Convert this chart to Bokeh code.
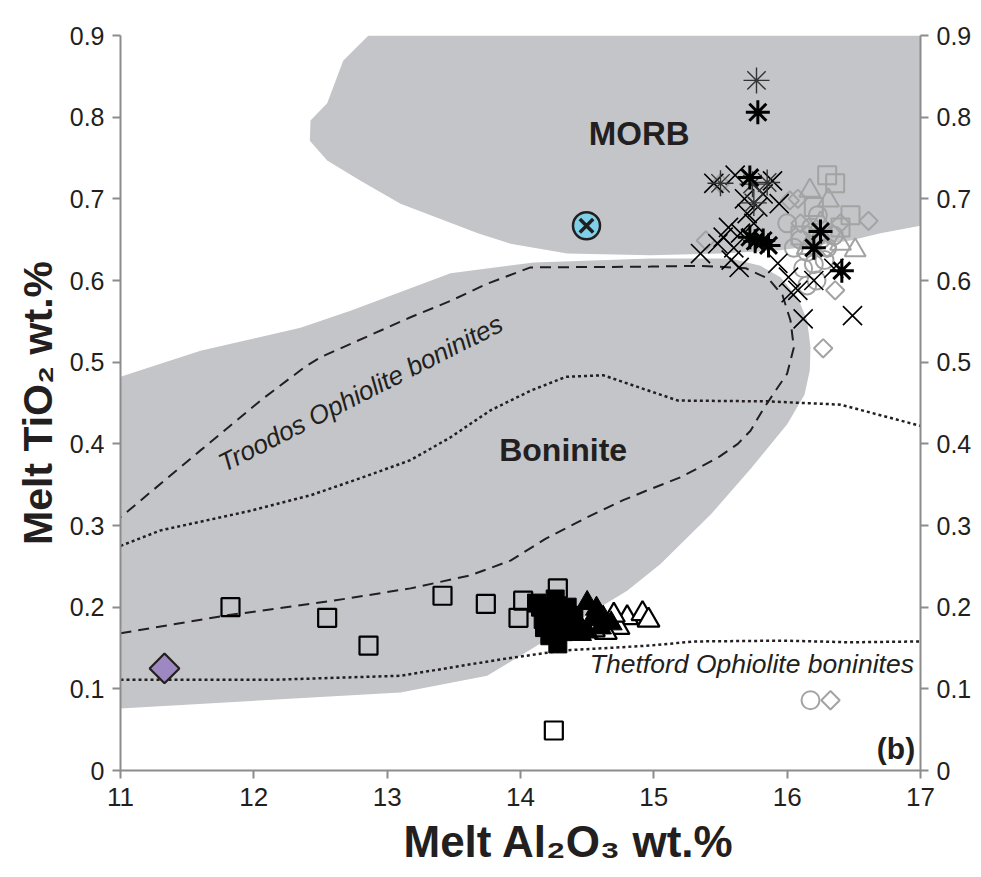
from bokeh.plotting import figure
from bokeh.models import LinearAxis, FixedTicker, CustomJSTickFormatter, Range1d
from bokeh.core.properties import value
from bokeh.embed import file_html
from bokeh.resources import INLINE

# ---- compositional fields (Al2O3, TiO2) ----
morb_x = [12.86, 12.67, 12.55, 12.425, 12.42, 12.55, 12.8, 13.1, 13.68, 13.925, 14.35,
          14.975, 15.5, 15.95, 16.475, 16.7, 17.0, 17.0]
morb_y = [0.9, 0.869, 0.817, 0.796, 0.771, 0.747, 0.722, 0.694, 0.658, 0.645, 0.633,
          0.631, 0.633, 0.637, 0.649, 0.658, 0.667, 0.9]

bon_x = [11.0, 11.6, 12.35, 12.725, 13.475, 14.1, 14.975, 15.575, 15.8, 15.95, 16.08,
         16.15, 16.175, 16.17, 16.13, 16.0, 15.73, 15.43, 15.05, 14.8, 13.75, 13.1, 11.0]
bon_y = [0.482, 0.514, 0.542, 0.563, 0.609, 0.622, 0.627, 0.627, 0.618, 0.604, 0.579,
         0.551, 0.518, 0.49, 0.46, 0.424, 0.37, 0.314, 0.253, 0.22, 0.116, 0.0955, 0.076]

# Troodos Ophiolite boninite envelope (dashed)
troodos_x = [11.0, 11.8, 12.6, 13.175, 13.625, 13.925, 14.19, 14.5, 14.77, 14.95, 15.2,
             15.48, 15.63, 15.725, 15.815, 15.9, 16.0, 16.05, 16.025, 15.965, 15.86,
             15.69, 15.35, 14.975, 14.075, 13.75, 13.475, 13.175, 12.5, 12.39, 12.05,
             11.6, 11.0]
troodos_y = [0.168, 0.19, 0.208, 0.223, 0.239, 0.257, 0.284, 0.31, 0.331, 0.343, 0.359,
             0.383, 0.4, 0.416, 0.441, 0.462, 0.486, 0.518, 0.551, 0.582, 0.602, 0.615,
             0.618, 0.617, 0.616, 0.596, 0.575, 0.555, 0.506, 0.495, 0.453, 0.392, 0.31]

# Thetford Ophiolite boninite envelope (dotted), upper and lower limits
thet_up_x = [11.0, 11.3, 11.975, 12.425, 12.8, 13.175, 13.475, 13.775, 14.075, 14.34,
             14.62, 15.18, 15.85, 16.4, 17.0]
thet_up_y = [0.275, 0.294, 0.318, 0.337, 0.358, 0.38, 0.408, 0.441, 0.465, 0.482,
             0.484, 0.453, 0.452, 0.448, 0.422]
thet_lo_x = [11.0, 12.125, 13.1, 13.85, 14.32, 14.975, 15.3, 15.97, 16.475, 17.0]
thet_lo_y = [0.111, 0.111, 0.116, 0.136, 0.147, 0.153, 0.158, 0.159, 0.157, 0.158]

# ---- melt compositions ----
open_sq_x = [11.825, 12.55, 12.86, 13.415, 13.74, 14.02, 13.985, 14.28, 14.25]
open_sq_y = [0.2, 0.187, 0.153, 0.214, 0.204, 0.208, 0.187, 0.223, 0.049]

fill_sq_x = [14.15, 14.2, 14.18, 14.25, 14.3, 14.22, 14.28, 14.35, 14.4, 14.12, 14.32,
             14.26, 14.17, 14.38]
fill_sq_y = [0.2, 0.19, 0.175, 0.2, 0.185, 0.165, 0.155, 0.2, 0.19, 0.205, 0.17,
             0.21, 0.185, 0.175]

fill_tri_x = [14.5, 14.57, 14.62, 14.5, 14.6, 14.45, 14.4, 14.68, 14.54]
fill_tri_y = [0.205, 0.198, 0.187, 0.17, 0.175, 0.167, 0.19, 0.18, 0.185]

open_tri_x = [14.8, 14.915, 14.96, 14.735, 14.64, 14.55, 14.7]
open_tri_y = [0.187, 0.192, 0.184, 0.175, 0.169, 0.172, 0.19]

purple_x = [11.33]
purple_y = [0.125]

cyan_x = [14.495]
cyan_y = [0.667]

cross_x = [15.45, 15.61, 15.89, 15.82, 15.94, 15.70, 15.56, 15.52, 15.35, 15.65, 15.64,
           15.93, 16.01, 16.08, 16.03, 16.12, 16.49, 15.60, 15.75, 15.58, 15.48, 16.20,
           16.35, 15.68, 15.78]
cross_y = [0.719, 0.729, 0.722, 0.706, 0.694, 0.682, 0.665, 0.653, 0.633, 0.658, 0.616,
           0.621, 0.604, 0.588, 0.585, 0.553, 0.557, 0.640, 0.670, 0.625, 0.645, 0.600,
           0.615, 0.700, 0.690]

star_bold_x = [15.78, 15.72, 15.72, 15.82, 15.86, 16.41, 15.76, 16.2, 16.25]
star_bold_y = [0.806, 0.726, 0.653, 0.649, 0.643, 0.612, 0.648, 0.64, 0.66]

star_thin_x = [15.77, 15.50, 15.74, 15.85, 15.75]
star_thin_y = [0.845, 0.719, 0.718, 0.72, 0.695]

gdiam_x = [15.50, 15.39, 16.36, 16.27, 16.61, 16.02, 16.08, 16.325, 16.4, 16.1, 16.3]
gdiam_y = [0.719, 0.649, 0.588, 0.517, 0.673, 0.698, 0.70, 0.086, 0.67, 0.67, 0.64]

gsq_x = [16.30, 16.36, 16.475, 16.4, 16.2, 16.1]
gsq_y = [0.729, 0.719, 0.68, 0.665, 0.69, 0.655]

gtri_x = [16.17, 16.31, 16.51, 16.25, 16.4, 16.15]
gtri_y = [0.71, 0.698, 0.637, 0.67, 0.645, 0.64]

gcirc_x = [16.10, 16.15, 16.20, 16.25, 16.18, 16.30, 16.22, 16.15, 16.05, 16.35, 16.28,
           16.12, 16.175, 16.0, 16.23]
gcirc_y = [0.650, 0.635, 0.62, 0.65, 0.665, 0.64, 0.60, 0.594, 0.64, 0.655, 0.625,
           0.615, 0.086, 0.67, 0.68]

x_ticks = [11, 12, 13, 14, 15, 16, 17]
y_ticks = [0, 0.1, 0.2, 0.3, 0.4, 0.5, 0.6, 0.7, 0.8, 0.9]

INK = "#231f20"
FIELD = "#c4c5c9"
GREY = "#a3a3a3"
AXIS = "#8c8c8c"
FONT = "Liberation Sans"

p = figure(width=981, height=877, x_range=Range1d(11, 17), y_range=Range1d(0, 0.9),
           output_backend="svg", toolbar_location=None,
           min_border_left=120, min_border_right=61, min_border_top=35,
           min_border_bottom=107)
p.outline_line_color = None
p.xgrid.visible = False
p.ygrid.visible = False

# fields
p.patch(morb_x, morb_y, fill_color=FIELD, line_color=None)
p.patch(bon_x, bon_y, fill_color=FIELD, line_color=None)

# envelopes
p.line(troodos_x, troodos_y, line_color=INK, line_width=2, line_dash="11 7")
p.line(thet_up_x, thet_up_y, line_color=INK, line_width=2.5, line_dash="3 3")
p.line(thet_lo_x, thet_lo_y, line_color=INK, line_width=2.5, line_dash="3 3")

# field names
p.text(x=[14.89], y=[0.78], text=["MORB"], text_font=value(FONT), text_font_style="bold",
       text_font_size="33px", text_color=INK, text_align="center", text_baseline="middle")
p.text(x=[14.32], y=[0.392], text=["Boninite"], text_font=value(FONT),
       text_font_style="bold", text_font_size="32px", text_color=INK,
       text_align="center", text_baseline="middle")
p.text(x=[12.8], y=[0.462], text=["Troodos Ophiolite boninites"], text_font=value(FONT),
       text_font_style="italic", text_font_size="26px", text_color=INK, angle=0.47,
       text_align="center", text_baseline="middle")
p.text(x=[14.52], y=[0.131], text=["Thetford Ophiolite boninites"], text_font=value(FONT),
       text_font_style="italic", text_font_size="26.5px", text_color=INK,
       text_align="left", text_baseline="middle")
p.text(x=[16.96], y=[0.027], text=["(b)"], text_font=value(FONT), text_font_style="bold",
       text_font_size="30px", text_color=INK, text_align="right", text_baseline="middle")

# grey symbols
p.scatter(gcirc_x, gcirc_y, marker="circle", size=18, fill_color=None, line_color=GREY,
          line_width=2)
p.scatter(gdiam_x, gdiam_y, marker="square", angle=0.785398, size=13, fill_color=None,
          line_color=GREY, line_width=2)
p.scatter(gsq_x, gsq_y, marker="square", size=18, fill_color=None, line_color=GREY,
          line_width=2)
p.scatter(gtri_x, gtri_y, marker="triangle", size=21, fill_color=None, line_color=GREY,
          line_width=2)

# black crosses and asterisks
p.scatter(cross_x, cross_y, marker="x", size=27, line_color="black", line_width=1.6)
p.scatter(star_thin_x, star_thin_y, marker="asterisk", size=26, line_color="#333333",
          line_width=1.4)
p.scatter(star_bold_x, star_bold_y, marker="asterisk", size=24, line_color="black",
          line_width=3)

# low-Ti melts
p.scatter(open_sq_x, open_sq_y, marker="square", size=18, fill_color=None,
          line_color="black", line_width=2.2)
p.scatter(fill_sq_x, fill_sq_y, marker="square", size=18, fill_color="black",
          line_color="black", line_width=1)
p.scatter(open_tri_x, open_tri_y, marker="triangle", size=22, fill_color="white",
          line_color="black", line_width=2.2)
p.scatter(fill_tri_x, fill_tri_y, marker="triangle", size=22, fill_color="black",
          line_color="black", line_width=1)

# single samples
p.scatter(purple_x, purple_y, marker="square", angle=0.785398, size=21,
          fill_color="#9d88c2", line_color=INK, line_width=2.2)
p.scatter(cyan_x, cyan_y, marker="circle", size=27, fill_color="#7fd0e6",
          line_color=INK, line_width=2.5)
p.scatter(cyan_x, cyan_y, marker="x", size=19, line_color=INK, line_width=3.5)

# axes
fmt = CustomJSTickFormatter(code="return tick == 0 ? '0' : tick.toFixed(1);")
right = LinearAxis()
p.add_layout(right, "right")

for ax in [p.xaxis[0], p.yaxis[0], right]:
    ax.axis_line_color = AXIS
    ax.axis_line_width = 2
    ax.major_tick_line_color = AXIS
    ax.major_tick_line_width = 2
    ax.major_tick_out = 8
    ax.major_tick_in = 0
    ax.minor_tick_line_color = None
    ax.major_label_text_color = INK
    ax.major_label_text_font = FONT
    ax.major_label_text_font_size = "25px"

p.xaxis[0].ticker = FixedTicker(ticks=x_ticks)
p.xaxis[0].major_label_text_font_size = "26px"
p.xaxis[0].major_label_standoff = 9
# leading em spaces push the centred title a little to the right
p.xaxis[0].axis_label = "\u2003\u2003\u2009Melt Al\u2082O\u2083 wt.%"
p.xaxis[0].axis_label_text_font = FONT
p.xaxis[0].axis_label_text_font_style = "bold"
p.xaxis[0].axis_label_text_font_size = "44px"
p.xaxis[0].axis_label_text_color = INK
p.xaxis[0].axis_label_standoff = 8

for ax in [p.yaxis[0], right]:
    ax.ticker = FixedTicker(ticks=y_ticks)
    ax.formatter = fmt
    ax.major_label_standoff = 8

p.yaxis[0].axis_label = "Melt TiO\u2082 wt.%"
p.yaxis[0].axis_label_text_font = FONT
p.yaxis[0].axis_label_text_font_style = "bold"
p.yaxis[0].axis_label_text_font_size = "41px"
p.yaxis[0].axis_label_text_color = INK
p.yaxis[0].axis_label_standoff = 6

open("out.html", "w").write(file_html(p, INLINE))
